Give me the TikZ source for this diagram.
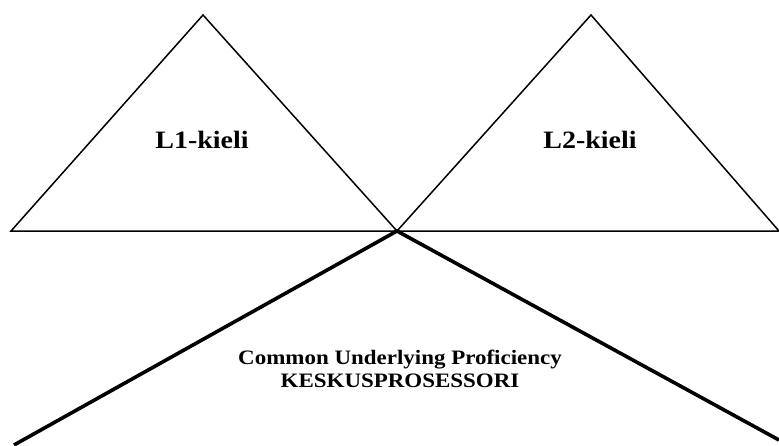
\documentclass[tikz,border=0pt]{standalone}
\usepackage{fontspec}
\setmainfont[FakeStretch=1.12]{Liberation Serif}
\usetikzlibrary{positioning,calc}

\begin{document}
\begin{tikzpicture}
    [x=1pt,y=-1pt,every node/.style={font=\bfseries},
     thin line/.style={line width=1.5pt,line join=miter},
     thick line/.style={line width=3.6pt}]
    \useasboundingbox (0,0) rectangle (779,445);

    % corners of the two language triangles
    \coordinate (Mid) at (397,231);
    \coordinate (Ltop) at (203,15);
    \coordinate (Lleft) at (11,231);
    \coordinate (Rtop) at (591,15);
    \coordinate (Rright) at (779,231);
    % ends of the lower wedge
    \coordinate (Bleft) at (14,445);
    \coordinate (Bright) at (779,440);

    \draw[thin line] (Lleft) -- (Ltop) -- (Mid) -- cycle;
    \draw[thin line] (Mid) -- (Rtop) -- (Rright) -- cycle;
    \draw[thick line] (Bleft) -- (Mid) -- (Bright);

    \node[font=\bfseries\fontsize{25}{29}\selectfont] (L1) at (202,140) {L1-kieli};
    \node[font=\bfseries\fontsize{25}{29}\selectfont] (L2) at (590,140) {L2-kieli};
    \node[align=center,font=\bfseries\fontsize{20.5}{23}\selectfont] (CUP) at (400,369)
        {Common Underlying Proficiency\\KESKUSPROSESSORI};
\end{tikzpicture}
\end{document}
